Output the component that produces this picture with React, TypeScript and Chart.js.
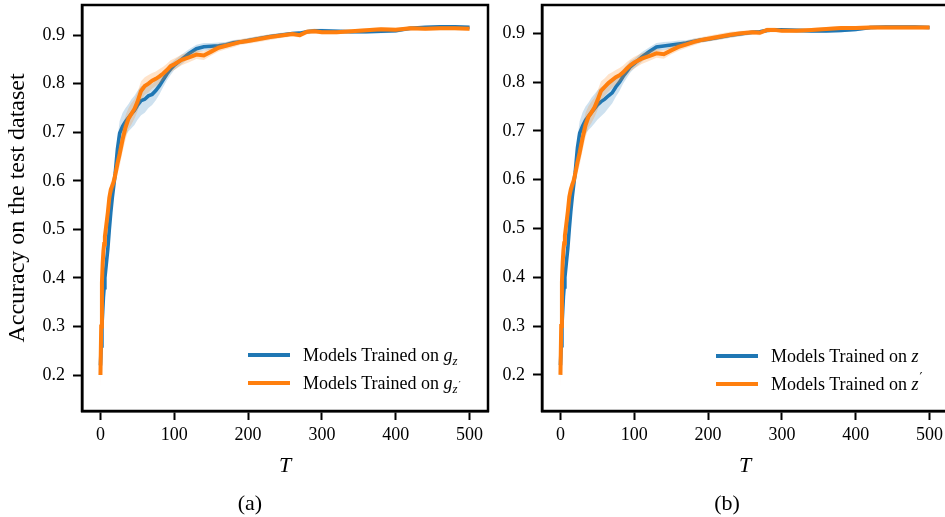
import React, { useEffect, useRef } from "react";
import { Chart, registerables } from "chart.js";

Chart.register(...registerables);

// ---------- data ----------
const steps = [
  0, 1, 2, 3, 4, 5, 6, 8, 10, 12,
  14, 16, 18, 20, 23, 26, 30, 34, 38, 42,
  46, 50, 55, 60, 65, 70, 75, 80, 85, 90,
  95, 100, 110, 120, 130, 140, 150, 160, 170, 180,
  190, 200, 215, 230, 245, 260, 270, 280, 290, 300,
  320, 340, 360, 380, 400, 420, 440, 460, 480, 500,
];

// (a) models trained on g_z (blue) and g_z' (orange)
const accGz = [
  0.220, 0.260, 0.300, 0.330, 0.360, 0.380, 0.400, 0.430, 0.460, 0.500,
  0.535, 0.565, 0.590, 0.615, 0.665, 0.698, 0.712, 0.722, 0.730, 0.738,
  0.745, 0.755, 0.765, 0.768, 0.775, 0.778, 0.786, 0.796, 0.808, 0.820,
  0.830, 0.838, 0.850, 0.862, 0.872, 0.876, 0.877, 0.878, 0.880, 0.884,
  0.886, 0.889, 0.893, 0.897, 0.900, 0.903, 0.904, 0.907, 0.909, 0.909,
  0.908, 0.907, 0.907, 0.908, 0.909, 0.914, 0.916, 0.917, 0.917, 0.916,
];
const stdGz = [
  0.005, 0.010, 0.010, 0.010, 0.010, 0.010, 0.010, 0.010, 0.010, 0.012,
  0.012, 0.012, 0.015, 0.018, 0.020, 0.025, 0.028, 0.028, 0.028, 0.030,
  0.030, 0.030, 0.030, 0.028, 0.025, 0.022, 0.020, 0.018, 0.015, 0.013,
  0.012, 0.010, 0.010, 0.009, 0.008, 0.008, 0.007, 0.007, 0.006, 0.006,
  0.005, 0.005, 0.005, 0.005, 0.005, 0.004, 0.004, 0.004, 0.004, 0.004,
  0.004, 0.004, 0.004, 0.004, 0.004, 0.004, 0.003, 0.003, 0.003, 0.003,
];
const accGzPrime = [
  0.200, 0.300, 0.390, 0.430, 0.455, 0.470, 0.485, 0.510, 0.535, 0.565,
  0.582, 0.590, 0.598, 0.612, 0.635, 0.655, 0.685, 0.710, 0.728, 0.738,
  0.748, 0.762, 0.785, 0.795, 0.800, 0.806, 0.810, 0.815, 0.821, 0.828,
  0.836, 0.840, 0.849, 0.854, 0.860, 0.858, 0.866, 0.874, 0.878, 0.882,
  0.886, 0.888, 0.892, 0.896, 0.899, 0.902, 0.900, 0.907, 0.908, 0.906,
  0.906, 0.908, 0.910, 0.912, 0.911, 0.914, 0.913, 0.914, 0.914, 0.913,
];
const stdGzPrime = [
  0.030, 0.020, 0.015, 0.015, 0.015, 0.015, 0.015, 0.015, 0.015, 0.015,
  0.015, 0.015, 0.018, 0.020, 0.022, 0.025, 0.025, 0.025, 0.022, 0.022,
  0.020, 0.020, 0.020, 0.018, 0.018, 0.016, 0.015, 0.015, 0.014, 0.013,
  0.012, 0.012, 0.011, 0.010, 0.009, 0.009, 0.008, 0.008, 0.007, 0.007,
  0.006, 0.006, 0.006, 0.006, 0.005, 0.005, 0.005, 0.005, 0.005, 0.004,
  0.004, 0.004, 0.004, 0.004, 0.004, 0.004, 0.004, 0.004, 0.004, 0.004,
];

// (b) models trained on z (blue) and z' (orange)
const accZ = [
  0.220, 0.260, 0.300, 0.330, 0.360, 0.380, 0.400, 0.430, 0.460, 0.500,
  0.535, 0.565, 0.590, 0.615, 0.665, 0.695, 0.710, 0.722, 0.730, 0.738,
  0.745, 0.753, 0.760, 0.765, 0.772, 0.778, 0.790, 0.800, 0.812, 0.822,
  0.832, 0.838, 0.851, 0.862, 0.872, 0.874, 0.876, 0.878, 0.880, 0.883,
  0.886, 0.888, 0.892, 0.896, 0.899, 0.902, 0.903, 0.906, 0.907, 0.907,
  0.906, 0.905, 0.905, 0.906, 0.908, 0.912, 0.913, 0.913, 0.913, 0.912,
];
const stdZ = [
  0.005, 0.010, 0.010, 0.010, 0.010, 0.010, 0.010, 0.010, 0.010, 0.012,
  0.012, 0.012, 0.015, 0.018, 0.020, 0.025, 0.028, 0.028, 0.028, 0.030,
  0.030, 0.030, 0.030, 0.028, 0.025, 0.022, 0.020, 0.018, 0.015, 0.013,
  0.012, 0.010, 0.010, 0.009, 0.008, 0.008, 0.007, 0.007, 0.006, 0.006,
  0.005, 0.005, 0.005, 0.005, 0.005, 0.004, 0.004, 0.004, 0.004, 0.004,
  0.004, 0.004, 0.004, 0.004, 0.004, 0.004, 0.003, 0.003, 0.003, 0.003,
];
const accZPrime = [
  0.200, 0.300, 0.390, 0.430, 0.455, 0.470, 0.485, 0.510, 0.535, 0.565,
  0.580, 0.590, 0.598, 0.612, 0.635, 0.655, 0.685, 0.712, 0.729, 0.738,
  0.748, 0.762, 0.782, 0.790, 0.798, 0.804, 0.810, 0.814, 0.820, 0.828,
  0.835, 0.840, 0.848, 0.853, 0.859, 0.857, 0.865, 0.872, 0.877, 0.882,
  0.886, 0.889, 0.893, 0.897, 0.900, 0.902, 0.901, 0.907, 0.907, 0.905,
  0.905, 0.907, 0.909, 0.911, 0.911, 0.912, 0.912, 0.912, 0.912, 0.912,
];
const stdZPrime = [
  0.030, 0.020, 0.015, 0.015, 0.015, 0.015, 0.015, 0.015, 0.015, 0.015,
  0.015, 0.015, 0.018, 0.020, 0.022, 0.025, 0.025, 0.025, 0.022, 0.022,
  0.020, 0.020, 0.020, 0.018, 0.018, 0.016, 0.015, 0.015, 0.014, 0.013,
  0.012, 0.012, 0.011, 0.010, 0.009, 0.009, 0.008, 0.008, 0.007, 0.007,
  0.006, 0.006, 0.006, 0.006, 0.005, 0.005, 0.005, 0.005, 0.005, 0.004,
  0.004, 0.004, 0.004, 0.004, 0.004, 0.004, 0.004, 0.004, 0.004, 0.004,
];

const xTicks = [0, 100, 200, 300, 400, 500];
const yTicks = [0.2, 0.3, 0.4, 0.5, 0.6, 0.7, 0.8, 0.9];
const yAxisTitle = "Accuracy on the test dataset";
const xAxisTitle = "T";

// ---------- styles ----------
const BLUE = "#1f77b4";
const ORANGE = "#ff7f0e";
const BLUE_BAND = "rgba(31,119,180,0.22)";
const ORANGE_BAND = "rgba(255,127,14,0.22)";
const FONT = "'Liberation Serif', 'Times New Roman', serif";
const CW = 492;
const CH = 517;

const framePlugin = {
  id: "frame",
  afterDraw(chart: any) {
    const { ctx, chartArea: a } = chart;
    ctx.save();
    ctx.strokeStyle = "#000";
    ctx.lineWidth = 2.5;
    ctx.strokeRect(a.left, a.top, a.right - a.left, a.bottom - a.top);
    ctx.restore();
  },
};

const pts = (ys: number[]) => steps.map((x, i) => ({ x, y: ys[i] }));
const ptsOff = (ys: number[], sd: number[], sign: number) =>
  steps.map((x, i) => ({ x, y: ys[i] + sign * sd[i] }));

function makeConfig(
  blue: number[],
  blueSd: number[],
  orange: number[],
  orangeSd: number[],
  yMax: number,
  showYTitle: boolean
): any {
  const none = "rgba(0,0,0,0)";
  const common = { pointRadius: 0, tension: 0 };
  const gridOpts = {
    drawOnChartArea: false,
    drawTicks: true,
    tickLength: 9,
    tickWidth: 2,
    tickColor: "#000",
  };
  const borderOpts = { display: true, color: "#000", width: 2.5 };
  return {
    type: "line",
    data: {
      datasets: [
        { ...common, data: pts(orange), borderColor: ORANGE, borderWidth: 4, fill: false },
        { ...common, data: ptsOff(orange, orangeSd, 1), borderColor: none, borderWidth: 1, fill: false },
        { ...common, data: ptsOff(orange, orangeSd, -1), borderColor: none, borderWidth: 1, fill: 1, backgroundColor: ORANGE_BAND },
        { ...common, data: pts(blue), borderColor: BLUE, borderWidth: 3.6, fill: false },
        { ...common, data: ptsOff(blue, blueSd, 1), borderColor: none, borderWidth: 1, fill: false },
        { ...common, data: ptsOff(blue, blueSd, -1), borderColor: none, borderWidth: 1, fill: 4, backgroundColor: BLUE_BAND },
      ],
    },
    options: {
      responsive: false,
      animation: false,
      devicePixelRatio: 1,
      layout: { padding: { top: 5, right: 4, left: 0, bottom: 0 } },
      plugins: {
        legend: { display: false },
        tooltip: { enabled: false },
        filler: { drawTime: "beforeDatasetDraw" },
      },
      scales: {
        x: {
          type: "linear",
          min: -25,
          max: 525,
          afterBuildTicks: (s: any) => {
            s.ticks = xTicks.map((v) => ({ value: v }));
          },
          afterFit: (s: any) => {
            s.height = 106;
            s.paddingLeft = 0;
            s.paddingRight = 0;
          },
          ticks: {
            color: "#000",
            font: { family: FONT, size: 18 },
            padding: 4,
            maxRotation: 0,
            autoSkip: false,
            callback: (v: any) => String(v),
          },
          grid: gridOpts,
          border: borderOpts,
          title: {
            display: true,
            text: xAxisTitle,
            color: "#000",
            font: { family: FONT, size: 22, style: "italic", lineHeight: 1 },
            padding: { top: 0, bottom: 40 },
          },
        },
        y: {
          type: "linear",
          min: 0.126,
          max: yMax,
          afterBuildTicks: (s: any) => {
            s.ticks = yTicks.map((v) => ({ value: v }));
          },
          afterFit: (s: any) => {
            s.width = 82;
            s.paddingTop = 0;
            s.paddingBottom = 0;
          },
          ticks: {
            color: "#000",
            font: { family: FONT, size: 18 },
            padding: 8,
            autoSkip: false,
            callback: (v: any) => Number(v).toFixed(1),
          },
          grid: gridOpts,
          border: borderOpts,
          title: {
            display: showYTitle,
            text: yAxisTitle,
            color: "#000",
            font: { family: FONT, size: 24, lineHeight: 1 },
            padding: { top: 6, bottom: 0 },
          },
        },
      },
    },
    plugins: [framePlugin],
  };
}

function Panel(props: { left: number; config: () => any }) {
  const ref = useRef<HTMLCanvasElement | null>(null);
  useEffect(() => {
    if (!ref.current) return;
    const chart = new Chart(ref.current, props.config());
    return () => chart.destroy();
  }, []);
  return (
    <canvas
      ref={ref}
      width={CW}
      height={CH}
      style={{ position: "absolute", left: props.left, top: 0, width: CW, height: CH }}
    />
  );
}

function LegendRow(props: { color: string; x: number; y: number; textX: number; children: any }) {
  return (
    <>
      <div
        style={{
          position: "absolute",
          left: props.x,
          top: props.y - 2,
          width: 42,
          height: 4,
          background: props.color,
        }}
      />
      <div
        style={{
          position: "absolute",
          left: props.textX,
          top: props.y - 12,
          height: 24,
          lineHeight: "24px",
          fontSize: 18,
          fontFamily: FONT,
          color: "#000",
          whiteSpace: "nowrap",
        }}
      >
        {props.children}
      </div>
    </>
  );
}

const subStyle: React.CSSProperties = { fontSize: 13, position: "relative", top: 4, fontStyle: "italic" };
const primeStyle: React.CSSProperties = {
  fontSize: 13,
  position: "relative",
  top: -8,
  marginLeft: 1,
  fontStyle: "normal",
  fontFamily: "'DejaVu Serif', serif",
};

const captionStyle: React.CSSProperties = {
  position: "absolute",
  width: 100,
  top: 490,
  textAlign: "center",
  fontSize: 22,
  lineHeight: "26px",
  color: "#000",
};

export default function App() {
  return (
    <div
      style={{
        position: "fixed",
        left: 0,
        top: 0,
        width: 945,
        height: 517,
        overflow: "hidden",
        background: "#fff",
        fontFamily: FONT,
      }}
    >
      <Panel left={0} config={() => makeConfig(accGz, stdGz, accGzPrime, stdGzPrime, 0.962, true)} />
      <Panel left={460} config={() => makeConfig(accZ, stdZ, accZPrime, stdZPrime, 0.958, false)} />

      <LegendRow color={BLUE} x={248} y={355} textX={303}>
        Models Trained on <i>g</i>
        <span style={subStyle}>z</span>
      </LegendRow>
      <LegendRow color={ORANGE} x={248} y={383} textX={303}>
        Models Trained on <i>g</i>
        <span style={subStyle}>z</span>
        <span style={{ ...primeStyle, fontSize: 10, top: -1 }}>′</span>
      </LegendRow>

      <LegendRow color={BLUE} x={716} y={356} textX={771}>
        Models Trained on <i>z</i>
      </LegendRow>
      <LegendRow color={ORANGE} x={716} y={384} textX={771}>
        Models Trained on <i>z</i>
        <span style={primeStyle}>′</span>
      </LegendRow>

      <div style={{ ...captionStyle, left: 200 }}>(a)</div>
      <div style={{ ...captionStyle, left: 677 }}>(b)</div>
    </div>
  );
}
